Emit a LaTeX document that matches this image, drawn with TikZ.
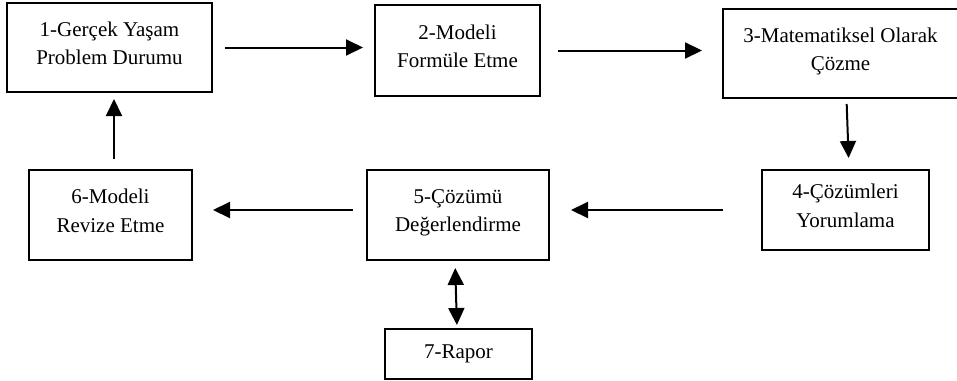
\documentclass[tikz,border=0pt]{standalone}
\usepackage{fontspec}
\setmainfont{Liberation Serif}
\usepackage{tikz}
\usetikzlibrary{positioning,arrows.meta}

\begin{document}
\begin{tikzpicture}[x=1pt, y=-1pt, font=\fontsize{21}{28.5}\selectfont,
  box/.style={draw, line width=2pt, align=center, inner sep=2pt},
  arr/.style={-{Triangle[length=17pt, width=16pt]}, line width=2pt},
  arrboth/.style={{Triangle[length=17pt, width=16pt]}-{Triangle[length=17pt, width=16pt]}, line width=2pt}]
\useasboundingbox (0,0) rectangle (957,380);
\node[box, minimum width=205pt, minimum height=89pt] (b1) at (109.5,47.5) {1-Gerçek Yaşam\\ Problem Durumu\\[-20pt]};
\node[box, minimum width=165pt, minimum height=91pt, right=161pt of b1, yshift=-3pt] (b2) {2-Modeli\\ Formüle Etme\\[-20pt]};
\node[box, minimum width=235pt, minimum height=89pt, right=181pt of b2, yshift=-3pt] (b3) {3-Matematiksel Olarak\\ Çözme\\[-20pt]};
\node[box, minimum width=167pt, minimum height=80pt, below=70pt of b3, xshift=5pt] (b4) {4-Çözümleri\\ Yorumlama\\[-20pt]};
\node[box, minimum width=163pt, minimum height=90pt, below=76pt of b1, xshift=1pt] (b6) {6-Modeli\\ Revize Etme\\[-20pt]};
\node[box, minimum width=182pt, minimum height=90pt, right=173pt of b6] (b5) {5-Çözümü\\ Değerlendirme\\[-20pt]};
\node[box, minimum width=147pt, minimum height=50pt, below=67pt of b5, xshift=0.5pt] (b7) {7-Rapor};
% cycle
\draw[arr, shorten <=12pt, shorten >=11pt] (b1.east) -- (b2.west|-b1.east);
\draw[arr, shorten <=17pt, shorten >=20pt] (b2.east) -- (b3.west|-b2.east);
\draw[arr, shorten <=5pt, shorten >=11pt] ([xshift=6pt]b3.south) -- ([xshift=3.5pt]b4.north);
\draw[arr, shorten <=38pt, shorten >=21pt] (b4.west) -- (b5.east|-b4.west);
\draw[arr, shorten <=13pt, shorten >=20pt] (b5.west|-b4.west) -- (b6.east|-b4.west);
\draw[arr, shorten <=10pt, shorten >=6pt] ([xshift=3.5pt]b6.north) -- ([xshift=4.5pt]b1.south);
% report
\draw[arrboth, shorten <=7pt, shorten >=3pt] ([xshift=-3pt]b5.south) -- ([xshift=-1.5pt]b7.north);
\end{tikzpicture}
\end{document}
